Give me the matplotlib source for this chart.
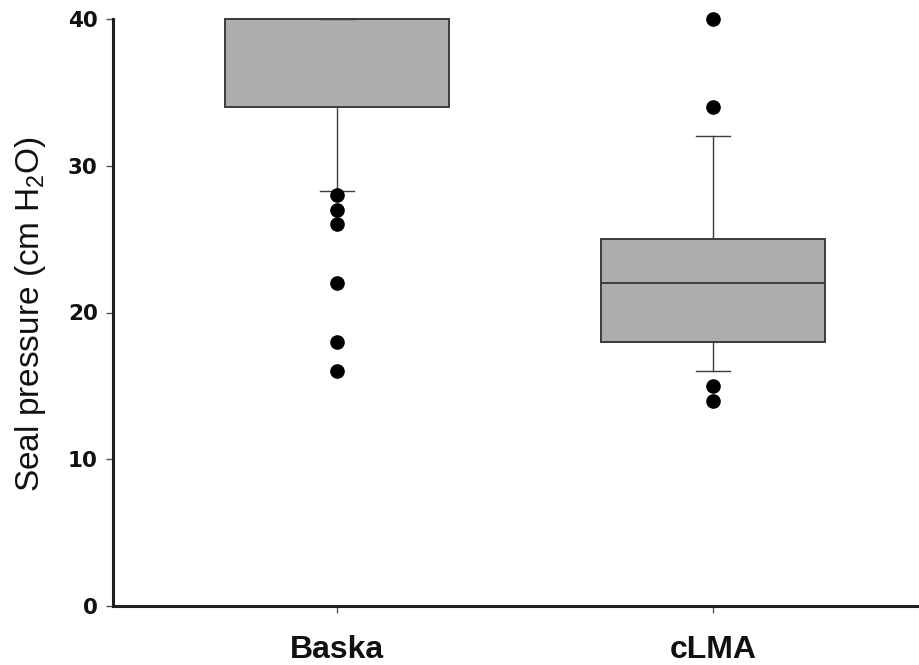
import matplotlib
matplotlib.use("Agg")
import matplotlib.pyplot as plt

categories = ["Baska", "cLMA"]
q1 = [34, 18]
med = [40, 22]
q3 = [40, 25]
whislo = [28.3, 16]
whishi = [40, 32]
fliers = [[28, 27, 26, 22, 18, 16], [40, 34, 15, 14]]
yticks = [0, 10, 20, 30, 40]

stats = []
for i, name in enumerate(categories):
    stats.append(dict(label=name, q1=q1[i], med=med[i], q3=q3[i],
                      whislo=whislo[i], whishi=whishi[i], fliers=fliers[i]))

fig = plt.figure(figsize=(9.19, 6.65), dpi=100)
ax = fig.add_axes([113/919, 59/665, (919-113)/919, (606-19)/665])

edge = "#3c3c3c"
bp = ax.bxp(stats, positions=[1, 2], widths=0.595, capwidths=0.088,
            patch_artist=True, showfliers=True,
            boxprops=dict(facecolor="#adadad", edgecolor=edge, linewidth=1.4),
            medianprops=dict(color=edge, linewidth=1.4),
            whiskerprops=dict(color=edge, linewidth=1.0),
            capprops=dict(color=edge, linewidth=1.0),
            flierprops=dict(marker="o", markerfacecolor="black", markeredgecolor="black",
                            markersize=9.5, linestyle="none"))
for art in bp["fliers"] + bp["boxes"] + bp["medians"] + bp["caps"]:
    art.set_clip_on(False)

ax.set_xlim(1 - 224/376, 2 + 206/376)
ax.set_ylim(0, 40)
ax.set_yticks(yticks)
ax.set_yticklabels([str(v) for v in yticks], fontfamily="DejaVu Sans",
                   fontweight="bold", fontsize=15.5, color="#111111")
ax.set_xticks([1, 2])
ax.set_xticklabels(categories, fontfamily="Liberation Sans", fontweight="bold",
                   fontsize=23, color="#111111")

for s in ["top", "right"]:
    ax.spines[s].set_visible(False)
for s in ["left", "bottom"]:
    ax.spines[s].set_linewidth(2.2)
    ax.spines[s].set_color("#1e1e1e")
ax.tick_params(axis="y", direction="out", length=5, width=1, color="#555555", pad=6)
ax.tick_params(axis="x", direction="out", length=5, width=1, color="#555555", pad=16)

fig.text(31/919, 1 - 314/665, "Seal pressure (cm H$_\\mathregular{2}$O)",
         rotation=90, ha="center", va="center", fontfamily="Liberation Sans",
         fontsize=24, color="#111111")

fig.savefig("out.png", dpi=100, facecolor="white")
